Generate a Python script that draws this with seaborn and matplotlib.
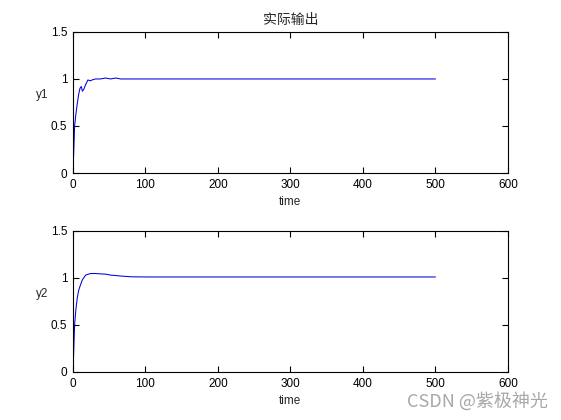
import matplotlib
matplotlib.use("Agg")
import matplotlib.pyplot as plt
import seaborn as sns
import pandas as pd

sns.set_theme(style="white")
plt.rcParams['font.family'] = ['Liberation Sans', 'Noto Sans CJK SC', 'DejaVu Sans']

# y1 response (time, value)
t1 = [0, 1, 2.3, 4, 6, 8, 9.7, 11.5, 13, 15, 17.5, 20.7, 23.5, 26.7, 31, 38, 45, 52, 59, 66, 80, 500]
v1 = [0, 0.2, 0.5, 0.62, 0.74, 0.84, 0.9, 0.92, 0.87, 0.89, 0.94, 0.99, 0.98, 0.99, 1.0, 1.0, 1.01, 1.0, 1.01, 1.0, 1.0, 1.0]
# y2 response (time, value)
t2 = [0, 1, 2.3, 4, 6, 8, 9.7, 13, 17.5, 24, 30, 38, 45, 52, 66, 80, 103, 500]
v2 = [0, 0.2, 0.5, 0.66, 0.79, 0.87, 0.91, 0.98, 1.03, 1.046, 1.047, 1.043, 1.04, 1.03, 1.02, 1.012, 1.01, 1.01]

title = "实际输出"
xticks = [0, 100, 200, 300, 400, 500, 600]
yticks = [0, 0.5, 1, 1.5]
ytick_labels = ["0", "0.5", "1", "1.5"]

fig = plt.figure(figsize=(5.61, 4.20), dpi=100)
fig.patch.set_facecolor("white")
ax1 = fig.add_axes([0.130, 0.588, 0.7755, 0.336])
ax2 = fig.add_axes([0.130, 0.1143, 0.7755, 0.336])

for ax, t, v, lab in [(ax1, t1, v1, "y1"), (ax2, t2, v2, "y2")]:
    df = pd.DataFrame({"time": t, "val": v})
    sns.lineplot(data=df, x="time", y="val", ax=ax, color="#0000e0", linewidth=0.75)
    ax.set_xlim(0, 600)
    ax.set_ylim(0, 1.5)
    ax.set_xticks(xticks)
    ax.set_xticklabels([str(x) for x in xticks])
    ax.set_yticks(yticks)
    ax.set_yticklabels(ytick_labels)
    ax.tick_params(direction="in", length=4, width=0.8, labelsize=8.5, colors="black",
                   top=True, right=True, bottom=True, left=True)
    ax.tick_params(axis="x", pad=4)
    ax.tick_params(axis="y", pad=4)
    for s in ax.spines.values():
        s.set_color("black")
        s.set_linewidth(0.8)
        s.set_visible(True)
    ax.set_xlabel("time", fontsize=8.5, labelpad=4)
    ax.set_ylabel(lab, fontsize=8.5, rotation=0, labelpad=12, va="center")
    ax.yaxis.set_label_coords(-0.07, 0.55)
    ax.set_facecolor("white")

ax1.set_title(title, fontsize=10, family=['Noto Sans CJK SC', 'DejaVu Sans'], pad=6)

fig.text(0.977, 0.022, "CSDN @紫极神光", ha="right", va="bottom", fontsize=13,
         color="#a8a8a8", family=['Noto Sans CJK SC', 'DejaVu Sans'])

fig.savefig("out.png", dpi=100, facecolor="white")
